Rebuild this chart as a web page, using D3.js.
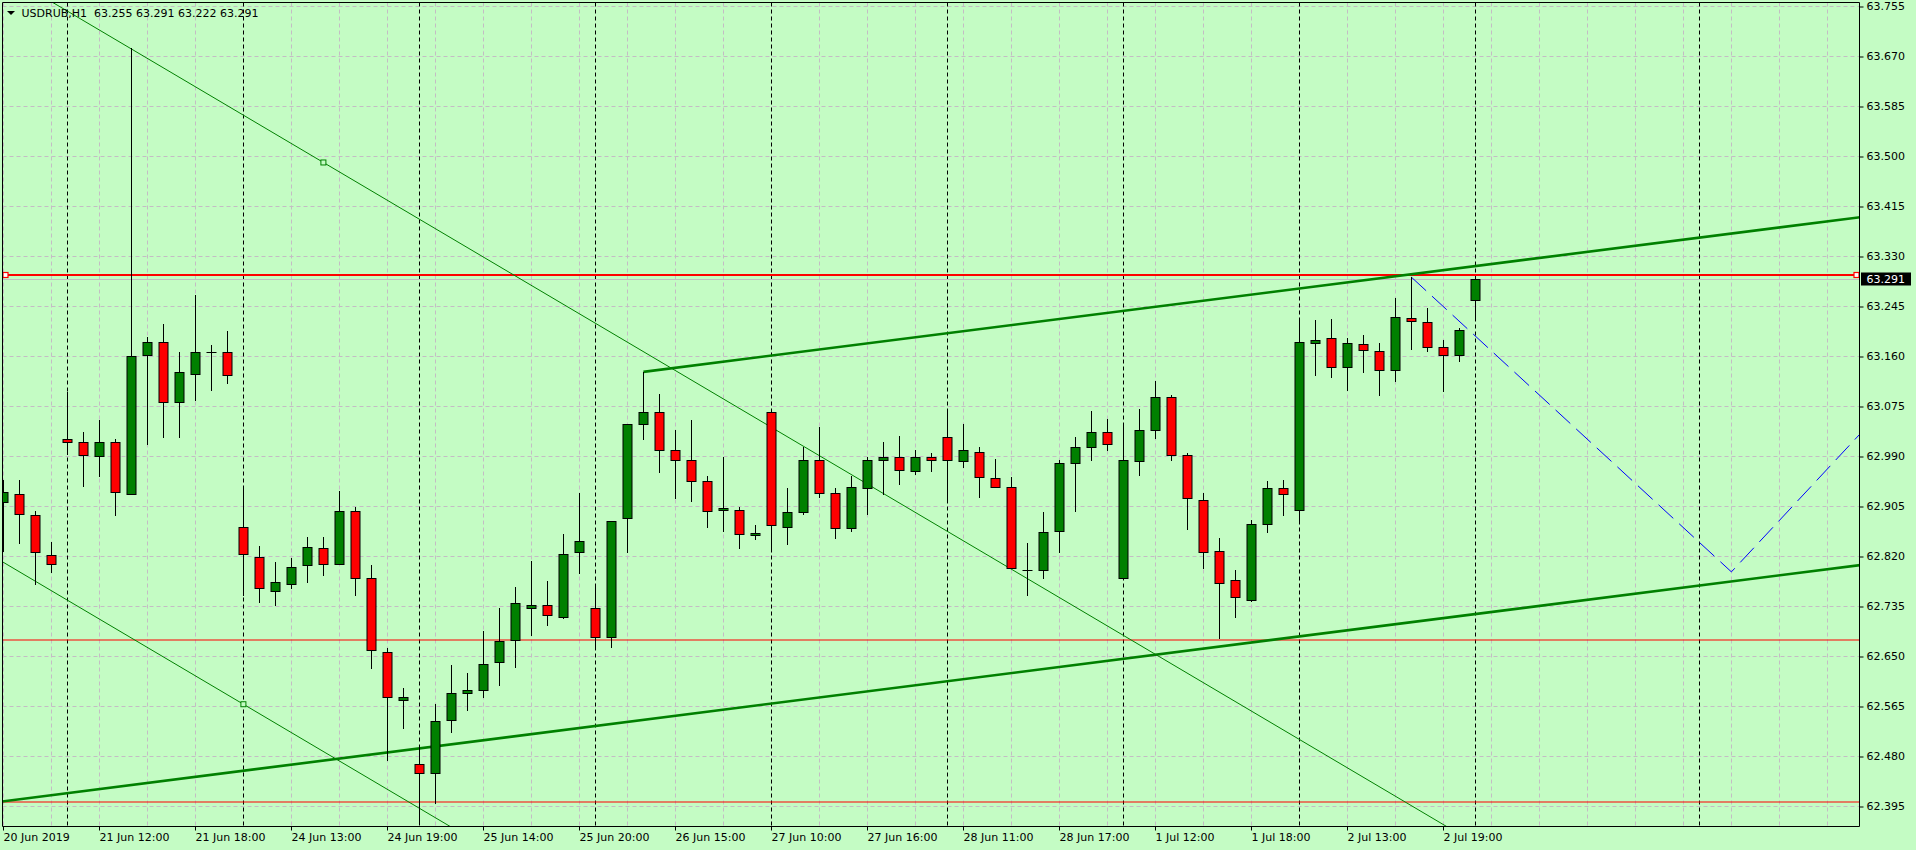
<!DOCTYPE html>
<html><head><meta charset="utf-8">
<script src="https://cdn.jsdelivr.net/npm/d3@7/dist/d3.min.js"></script>
<style>
html,body{margin:0;padding:0;background:#c4fcc4;overflow:hidden}
svg{display:block}
</style></head><body>
<svg id="chart" width="1916" height="850"></svg>
<script>
// ---------------- DATA ----------------
const symbolName = "USDRUB,H1";
const headerOHLC = [63.255, 63.291, 63.222, 63.291];
const opens = [62.911,62.926,62.890,62.822,63.019,63.013,62.990,63.014,62.926,63.161,63.184,63.082,63.129,63.167,63.167,
 62.869,62.818,62.760,62.772,62.804,62.833,62.807,62.896,62.782,62.656,62.576,
 62.466,62.451,62.541,62.587,62.593,62.639,62.677,62.731,62.736,62.717,62.826,
 62.731,62.682,62.884,63.044,63.064,63.001,62.984,62.947,62.899,62.898,62.856,
 63.064,62.869,62.894,62.984,62.927,62.867,62.935,62.984,62.989,62.964,62.989,
 63.022,62.981,62.996,62.952,62.938,62.796,62.796,62.862,62.978,63.005,63.030,
 62.782,62.981,63.034,63.090,62.991,62.915,62.828,62.780,62.746,62.874,62.935,
 62.899,63.182,63.190,63.142,63.180,63.168,63.136,63.224,63.217,63.176,63.161,
 63.255];
const highs = [62.950,62.950,62.896,62.843,63.099,63.030,63.052,63.019,63.683,63.193,63.214,63.167,63.263,63.178,63.203,
 62.936,62.837,62.810,62.817,62.852,62.852,62.930,62.904,62.804,62.663,62.596,
 62.496,62.568,62.635,62.621,62.692,62.731,62.767,62.811,62.777,62.857,62.927,
 62.772,62.879,63.044,63.133,63.095,63.035,63.051,62.956,62.988,62.903,62.873,
 63.068,62.936,63.006,63.039,62.936,62.956,62.988,63.014,63.024,63.000,62.995,
 63.068,63.044,63.006,62.985,62.954,62.842,62.895,62.984,63.022,63.066,63.053,
 63.041,63.070,63.118,63.093,62.995,62.927,62.850,62.796,62.881,62.947,62.949,
 63.225,63.221,63.223,63.190,63.195,63.182,63.258,63.294,63.241,63.187,63.207,
 63.291];
const lows = [62.829,62.842,62.773,62.793,62.993,62.939,62.956,62.889,62.926,63.010,63.023,63.022,63.085,63.102,63.114,
 62.754,62.741,62.736,62.765,62.775,62.788,62.806,62.754,62.630,62.473,62.528,
 62.365,62.400,62.521,62.559,62.580,62.600,62.632,62.686,62.703,62.714,62.791,
 62.663,62.666,62.827,63.019,62.962,62.919,62.914,62.870,62.863,62.834,62.849,
 62.829,62.841,62.891,62.921,62.851,62.863,62.892,62.925,62.943,62.960,62.965,
 62.911,62.972,62.921,62.938,62.799,62.754,62.783,62.827,62.897,62.984,63.001,
 62.782,62.957,63.021,62.983,62.866,62.800,62.680,62.717,62.743,62.861,62.889,
 62.881,63.128,63.125,63.103,63.132,63.093,63.118,63.172,63.168,63.101,63.151,
 63.222];
const closes = [62.928,62.891,62.826,62.807,63.013,62.992,63.014,62.928,63.160,63.184,63.082,63.132,63.167,63.167,63.128,
 62.823,62.765,62.775,62.802,62.835,62.807,62.896,62.782,62.661,62.580,62.580,
 62.451,62.539,62.587,62.593,62.636,62.675,62.740,62.736,62.719,62.823,62.845,
 62.682,62.879,63.044,63.064,63.001,62.984,62.947,62.896,62.902,62.857,62.859,
 62.872,62.894,62.983,62.927,62.867,62.938,62.983,62.989,62.966,62.989,62.984,
 62.983,63.000,62.955,62.938,62.799,62.796,62.860,62.978,63.005,63.030,63.010,
 62.984,63.035,63.090,62.991,62.918,62.826,62.774,62.750,62.874,62.935,62.925,
 63.183,63.188,63.141,63.182,63.171,63.137,63.227,63.219,63.176,63.161,63.204,
 63.291];
const priceTicks = [63.755,63.670,63.585,63.500,63.415,63.330,63.245,63.160,63.075,62.990,62.905,62.820,62.735,62.650,62.565,62.480,62.395];
const timeTickBars = [0,6,12,18,24,30,36,42,48,54,60,66,72,78,84,90];
const timeTickLabels = ["20 Jun 2019","21 Jun 12:00","21 Jun 18:00","24 Jun 13:00","24 Jun 19:00","25 Jun 14:00","25 Jun 20:00","26 Jun 15:00","27 Jun 10:00","27 Jun 16:00","28 Jun 11:00","28 Jun 17:00","1 Jul 12:00","1 Jul 18:00","2 Jul 13:00","2 Jul 19:00"];
const daySeparatorBars = [4,15,26,37,48,59,70,81,92,106];
const redLevels = [63.297, 62.677, 62.402];
const thinUpper = [[20,63.489],[40,63.1674]];
const thinLower = [[15,62.568],[35,62.2464]];
const thickUpper = [[40,63.133],[88,63.299]];
const thickLower = [[0,62.403],[88,62.7075]];
const projection = [[88,63.294],[108,62.793],[120,63.143]];
const lastPrice = 63.291;

// ---------------- LAYOUT ----------------
const L = 2.5, T = 2.5, R = 1859.5, B = 826.5;
const bg = "#c4fcc4", gridColor = "#c4bcc4", green = "#008000", red = "#ff0000";
const FONT = "'DejaVu Sans', sans-serif";

const svg = d3.select("#chart");
svg.append("rect").attr("width",1916).attr("height",850).attr("fill",bg);

const x = d3.scaleLinear().domain([0,1]).range([3.4,19.4]);
const y = d3.scaleLinear().domain([62.395,63.755]).range([806,6]);
const px = v => Math.round(v) + 0.5;

svg.append("clipPath").attr("id","plot").append("rect")
  .attr("x",L).attr("y",T).attr("width",R-L).attr("height",B-T);
const plot = svg.append("g").attr("clip-path","url(#plot)");

// grid
const nGrid = d3.range(0, 40);
plot.append("g").selectAll("line").data(nGrid).join("line")
  .attr("x1",d=>px(x(d*3))).attr("x2",d=>px(x(d*3)))
  .attr("y1",T).attr("y2",B)
  .attr("stroke",gridColor).attr("stroke-dasharray","4,3");
plot.append("g").selectAll("line").data(priceTicks).join("line")
  .attr("x1",L).attr("x2",R)
  .attr("y1",d=>px(y(d))).attr("y2",d=>px(y(d)))
  .attr("stroke",gridColor).attr("stroke-dasharray","4,3");

// day separators
plot.append("g").selectAll("line").data(daySeparatorBars).join("line")
  .attr("x1",d=>px(x(d))).attr("x2",d=>px(x(d)))
  .attr("y1",T).attr("y2",B)
  .attr("stroke","#000").attr("stroke-dasharray","4,3");

// bid line
plot.append("line").attr("x1",L).attr("x2",R)
  .attr("y1",px(y(lastPrice))).attr("y2",px(y(lastPrice)))
  .attr("stroke","#c0c0c0");

// red horizontal levels
plot.append("g").selectAll("line").data(redLevels).join("line")
  .attr("x1",L).attr("x2",R)
  .attr("y1",d=>Math.round(y(d))).attr("y2",d=>Math.round(y(d)))
  .attr("stroke",red).attr("stroke-width",(d,i)=>i===0?2:1);
[L+3, R-3].forEach(cx=>{
  plot.append("rect").attr("x",cx-2.5).attr("y",Math.round(y(redLevels[0]))-2.5)
    .attr("width",5).attr("height",5).attr("fill","#fff").attr("stroke",red).attr("stroke-width",1.2);
});

// extended line helper
function extLine(pts, fromBar, toBar){
  const [a,b] = pts;
  const s = (b[1]-a[1])/(b[0]-a[0]);
  return [[fromBar, a[1]+s*(fromBar-a[0])],[toBar, a[1]+s*(toBar-a[0])]];
}
const lineGen = d3.line().x(d=>x(d[0])).y(d=>y(d[1]));

// thin channel
[thinUpper, thinLower].forEach(pts=>{
  plot.append("path").attr("d", lineGen(extLine(pts,-5,130)))
    .attr("fill","none").attr("stroke",green).attr("stroke-width",1);
  plot.append("rect").attr("x",x(pts[0][0])-2.5).attr("y",y(pts[0][1])-2.5)
    .attr("width",5).attr("height",5).attr("fill",bg).attr("stroke",green).attr("stroke-width",1);
});

// thick channel
plot.append("path").attr("d", lineGen(extLine(thickUpper,thickUpper[0][0],130)))
  .attr("fill","none").attr("stroke",green).attr("stroke-width",2.6);
plot.append("path").attr("d", lineGen(extLine(thickLower,-5,130)))
  .attr("fill","none").attr("stroke",green).attr("stroke-width",2.6);

// projection
plot.append("path").attr("d", lineGen(projection))
  .attr("fill","none").attr("stroke","#0000ff").attr("stroke-width",1)
  .attr("stroke-dasharray","20,8");

// candles
const bars = d3.range(opens.length);
const cg = plot.append("g");
cg.selectAll("line.wick").data(bars).join("line").attr("class","wick")
  .attr("x1",i=>px(x(i))).attr("x2",i=>px(x(i)))
  .attr("y1",i=>Math.round(y(highs[i]))).attr("y2",i=>Math.round(y(lows[i]))+1)
  .attr("stroke","#000");
bars.forEach(i=>{
  const top = Math.round(y(Math.max(opens[i],closes[i])));
  const bot = Math.round(y(Math.min(opens[i],closes[i])));
  const cx = px(x(i));
  if (bot - top < 1) {
    cg.append("line").attr("x1",cx-5).attr("x2",cx+5).attr("y1",top+0.5).attr("y2",top+0.5).attr("stroke","#000");
  } else {
    cg.append("rect").attr("x",cx-4.5).attr("y",top+0.5).attr("width",9).attr("height",bot-top)
      .attr("fill", closes[i]>=opens[i]?green:red).attr("stroke","#000").attr("stroke-width",1);
  }
});

// frame
svg.append("path").attr("d",`M${L},${T}H${R}V${B}H${L}Z`).attr("fill","none").attr("stroke","#000");

// axes
const yAxis = d3.axisRight(y).tickValues(priceTicks).tickFormat(d3.format(".3f")).tickSize(4).tickPadding(3);
const gy = svg.append("g").attr("transform",`translate(${R},0)`).call(yAxis);
gy.select(".domain").remove();
gy.selectAll(".tick line").attr("stroke","#000").attr("transform","translate(0,0.5)");
gy.selectAll("text").attr("font-family",FONT).attr("font-size",11).attr("fill","#000");

const xAxis = d3.axisBottom(x).tickValues(timeTickBars).tickFormat((d,i)=>timeTickLabels[i]).tickSize(4).tickPadding(3);
const gx = svg.append("g").attr("transform",`translate(0,${B})`).call(xAxis);
gx.select(".domain").remove();
gx.selectAll(".tick").attr("transform",d=>`translate(${px(x(d))},0)`);
gx.selectAll(".tick line").attr("stroke","#000");
gx.selectAll("text").attr("font-family",FONT).attr("font-size",11).attr("fill","#000")
  .attr("text-anchor","start").attr("x",0);

// current price label
svg.append("rect").attr("x",1861).attr("y",Math.round(y(lastPrice))-6.5).attr("width",50).attr("height",13).attr("fill","#000");
svg.append("text").attr("x",1866.5).attr("y",y(lastPrice)).attr("dy","0.35em")
  .attr("font-family",FONT).attr("font-size",11).attr("fill","#fff").text(d3.format(".3f")(lastPrice));

// header
svg.append("path").attr("d","M7,11H15L11,15Z").attr("fill","#000");
svg.append("text").attr("x",21.5).attr("y",16.5).attr("font-family",FONT).attr("font-size",11)
  .attr("fill","#000").style("white-space","pre")
  .text(symbolName + "  " + headerOHLC.map(d3.format(".3f")).join(" "));
</script>
</body></html>
